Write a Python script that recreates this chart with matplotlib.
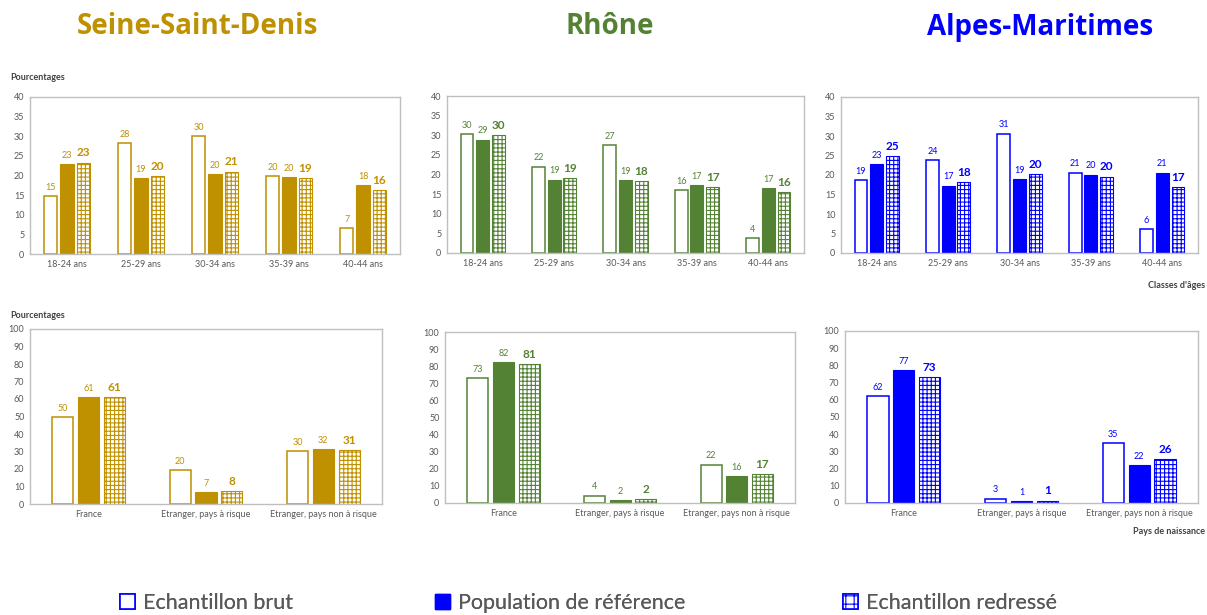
import numpy as np
import matplotlib
matplotlib.use("Agg")
import matplotlib.pyplot as plt
from matplotlib.patches import Patch

plt.rcParams['font.family'] = ['Lato', 'DejaVu Sans']
plt.rcParams['hatch.linewidth'] = 0.8

# data
regions = ["Seine-Saint-Denis", "Rhône", "Alpes-Maritimes"]
colors = ["#BF9000", "#548235", "#0000FF"]
age_cats = ["18-24 ans", "25-29 ans", "30-34 ans", "35-39 ans", "40-44 ans"]
birth_cats = ["France", "Etranger, pays à risque", "Etranger, pays non à risque"]
series = ["Echantillon brut", "Population de référence", "Echantillon redressé"]

# age classes: brut, reference, redresse
ssd_age_brut = [14.8, 28.3, 30.0, 19.9, 6.7]
ssd_age_ref = [22.9, 19.4, 20.3, 19.6, 17.6]
ssd_age_red = [23.3, 19.8, 21.0, 19.3, 16.2]
rho_age_brut = [30.3, 22.0, 27.4, 16.1, 3.8]
rho_age_ref = [28.9, 18.7, 18.6, 17.4, 16.6]
rho_age_red = [30.1, 19.0, 18.4, 16.9, 15.6]
am_age_brut = [18.6, 23.9, 30.6, 20.6, 6.1]
am_age_ref = [22.7, 17.3, 19.0, 20.1, 20.6]
am_age_red = [24.9, 18.1, 20.3, 19.6, 16.8]

# country of birth
ssd_nais_brut = [49.9, 19.6, 30.1]
ssd_nais_ref = [61.3, 7.0, 31.6]
ssd_nais_red = [61.3, 7.6, 31.0]
rho_nais_brut = [73.2, 4.3, 22.5]
rho_nais_ref = [82.4, 1.9, 15.7]
rho_nais_red = [81.4, 2.3, 17.1]
am_nais_brut = [62.2, 2.6, 34.9]
am_nais_ref = [77.1, 1.0, 21.9]
am_nais_red = [73.1, 1.4, 25.6]

age_data = [(ssd_age_brut, ssd_age_ref, ssd_age_red),
            (rho_age_brut, rho_age_ref, rho_age_red),
            (am_age_brut, am_age_ref, am_age_red)]
nais_data = [(ssd_nais_brut, ssd_nais_ref, ssd_nais_red),
             (rho_nais_brut, rho_nais_ref, rho_nais_red),
             (am_nais_brut, am_nais_ref, am_nais_red)]

W, H = 1207, 615
fig = plt.figure(figsize=(W / 100, H / 100), dpi=100)


def box(x0, x1, ytop, ybot):
    return [x0 / W, 1 - ybot / H, (x1 - x0) / W, (ybot - ytop) / H]


top_pos = [box(30, 400, 97, 254), box(447, 804, 96, 253), box(841, 1198, 97, 253)]
bot_pos = [box(30, 382, 329, 504), box(445, 795, 332, 503), box(845, 1198, 331, 503)]
title_x = [197, 610, 1040]


def draw(ax, cats, data, color, ymax, ystep):
    x = np.arange(len(cats))
    w = 0.18
    off = 0.22
    brut, ref, red = data
    b1 = ax.bar(x - off, brut, w, facecolor="white", edgecolor=color, linewidth=1.1)
    b2 = ax.bar(x, ref, w, facecolor=color, edgecolor=color, linewidth=0.8)
    b3 = ax.bar(x + off, red, w, facecolor="white", edgecolor=color, linewidth=0.8, hatch="++++")
    for bars, vals, bold in [(b1, brut, False), (b2, ref, False), (b3, red, True)]:
        for r, v in zip(bars, vals):
            ax.annotate(f"{round(v)}", (r.get_x() + r.get_width() / 2, v),
                        xytext=(0, 3), textcoords="offset points",
                        ha="center", va="bottom", color=color,
                        fontsize=8.5 if bold else 6.5,
                        fontweight="bold" if bold else "normal")
    ax.set_xlim(-0.5, len(cats) - 0.5)
    ax.set_ylim(0, ymax)
    ax.set_yticks(np.arange(0, ymax + 1, ystep))
    ax.set_xticks(x)
    ax.set_xticklabels(cats)
    ax.tick_params(length=0, labelsize=6.5, labelcolor="#595959", pad=4)
    for s in ax.spines.values():
        s.set_color("#BFBFBF")
        s.set_linewidth(1.0)


for i in range(3):
    ax = fig.add_axes(top_pos[i])
    draw(ax, age_cats, age_data[i], colors[i], 40, 5)
    ax = fig.add_axes(bot_pos[i])
    draw(ax, birth_cats, nais_data[i], colors[i], 100, 10)
    fig.text(title_x[i] / W, 1 - 27 / H, regions[i], color=colors[i],
             fontsize=20, fontweight="bold", ha="center", va="center",
             family=["Open Sans", "DejaVu Sans"])

fig.text(10 / W, 1 - 77 / H, "Pourcentages", fontsize=6.5, fontweight="bold",
         color="#404040", va="center")
fig.text(10 / W, 1 - 316 / H, "Pourcentages", fontsize=6.5, fontweight="bold",
         color="#404040", va="center")
fig.text(1205 / W, 1 - 285 / H, "Classes d'âges", fontsize=6.5, fontweight="bold",
         color="#404040", va="center", ha="right")
fig.text(1205 / W, 1 - 531 / H, "Pays de naissance", fontsize=6.5, fontweight="bold",
         color="#404040", va="center", ha="right")

# legend
handles = [Patch(facecolor="white", edgecolor="#0000FF", linewidth=1.2),
           Patch(facecolor="#0000FF", edgecolor="#0000FF"),
           Patch(facecolor="white", edgecolor="#0000FF", hatch="++", linewidth=1.2)]
leg_x = [120, 435, 843]
for h, lab, lx in zip(handles, series, leg_x):
    lg = fig.legend([h], [lab], loc="center left", bbox_to_anchor=(lx / W, 1 - 603 / H),
                    frameon=False, fontsize=15.5, borderpad=0, borderaxespad=0,
                    handlelength=0.7, handleheight=0.7, handletextpad=0.35,
                    labelcolor="#595959")
    fig.add_artist(lg)

fig.savefig("out.png", dpi=100)
